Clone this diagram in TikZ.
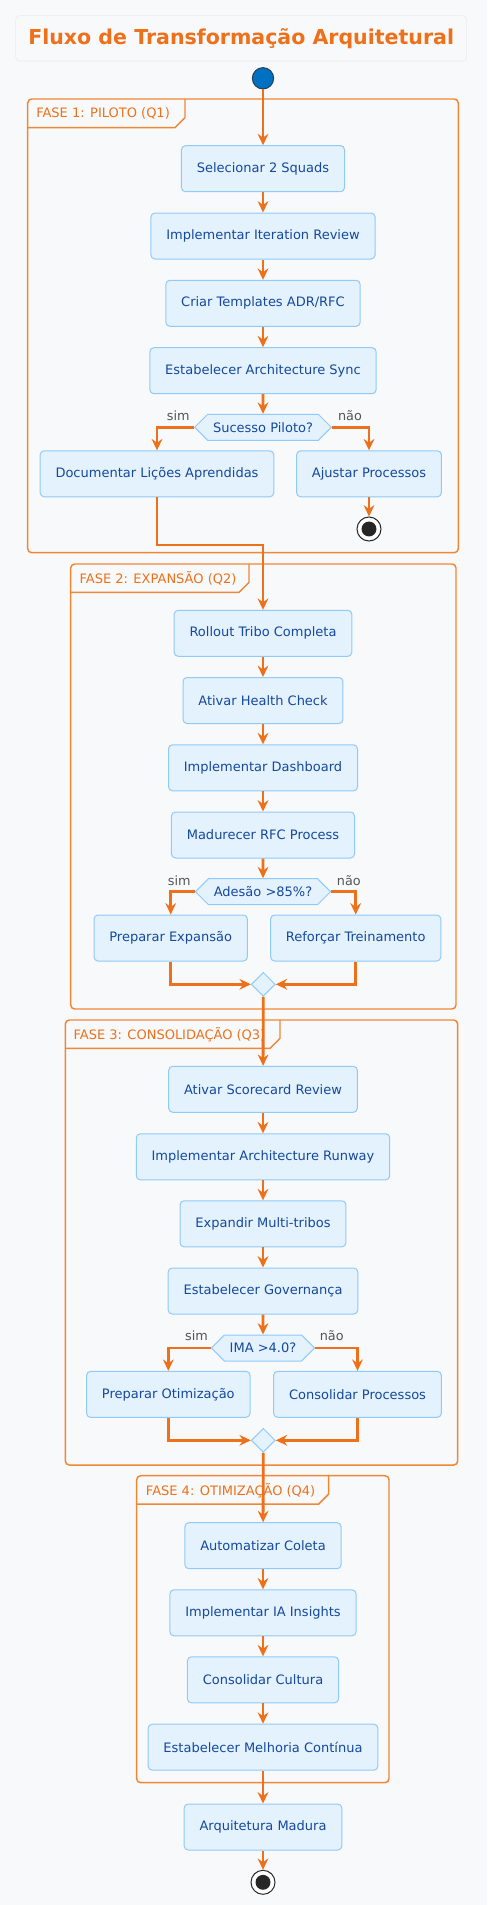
\documentclass[tikz,border=0pt]{standalone}
\usepackage{fontspec}
\setmainfont{DejaVu Sans}
\usetikzlibrary{arrows.meta,shapes.geometric,shapes.symbols,positioning}
\definecolor{fundo}{RGB}{248,249,250}
\definecolor{laranja}{RGB}{238,112,26}
\definecolor{moldura}{RGB}{240,135,55}
\definecolor{caixafundo}{RGB}{227,242,253}
\definecolor{caixaborda}{RGB}{144,202,249}
\definecolor{caixatexto}{RGB}{21,72,158}
\definecolor{azulini}{RGB}{0,112,192}
\definecolor{cinza}{RGB}{85,85,85}
\definecolor{titborda}{RGB}{232,234,237}
\tikzset{
  titulo/.style={rectangle, draw=titborda, fill=fundo, text=laranja, rounded corners=3pt, minimum width=338.25pt, minimum height=34pt, font=\bfseries\fontsize{15.4}{18}\selectfont},
  acao/.style={rectangle, draw=caixaborda, fill=caixafundo, text=caixatexto, line width=0.75pt, rounded corners=3pt, minimum height=34.5pt, inner xsep=11.5pt, font=\fontsize{9.75}{12}\selectfont},
  decisao/.style={signal, signal to=west and east, draw=caixaborda, fill=caixafundo, text=caixatexto, line width=0.75pt, minimum height=19.5pt, inner xsep=4pt, inner ysep=0pt, font=\fontsize{9.75}{12}\selectfont},
  juncao/.style={diamond, draw=caixaborda, fill=caixafundo, line width=0.75pt, minimum size=18pt, inner sep=0pt},
  inicio/.style={circle, draw={rgb,255:red,44;green,62;blue,80}, fill=azulini, line width=0.75pt, minimum size=16pt, inner sep=0pt},
  fim/.style={circle, draw=black!85, fill=white, line width=0.75pt, minimum size=18pt, inner sep=0pt, path picture={\fill[black!85] (path picture bounding box.center) circle (5.6pt);}},
  rotulo/.style={text=cinza, inner sep=0pt, font=\fontsize{9.6}{11}\selectfont},
  fasetit/.style={text=laranja, inner sep=0pt, anchor=west, font=\fontsize{9.75}{12}\selectfont},
  fase/.style={draw=moldura, line width=1.1pt},
  seta/.style={color=laranja, line width=2.1pt, -{Stealth[length=8.5pt,width=8pt,inset=2.8pt]}},
}
\begin{document}
\begin{tikzpicture}[x=0.75pt, y=-0.75pt]
  \fill[fundo] (0,0) rectangle (487,1905);
  \useasboundingbox (0,0) rectangle (487,1905);

  \node[titulo] (tit) at (241.2,38.35) {Fluxo de Transformação Arquitetural};

  %molduras das fases
  \draw[fase, rounded corners=3pt] (27.7,99) rectangle (458.3,552.7);
  \draw[fase] (27.7,127.7) -- (175,127.7) -- (185,117.7) -- (185,99);
  \node[fasetit] (f1) at (36,113.3) {FASE 1: PILOTO (Q1)};

  \draw[fase, rounded corners=3pt] (70.7,564) rectangle (456,1009);
  \draw[fase] (70.7,592.3) -- (239,592.3) -- (249,582.3) -- (249,564);
  \node[fasetit] (f2) at (79.3,578.3) {FASE 2: EXPANSÃO (Q2)};

  \draw[fase, rounded corners=3pt] (65.3,1020) rectangle (457.7,1465);
  \draw[fase] (65.3,1048.3) -- (270,1048.3) -- (280,1038.3) -- (280,1020);
  \node[fasetit] (f3) at (73.3,1034.3) {FASE 3: CONSOLIDAÇÃO (Q3)};

  \draw[fase, rounded corners=3pt] (136.7,1475.7) rectangle (389,1782.7);
  \draw[fase] (136.7,1504) -- (318.7,1504) -- (328.7,1494) -- (328.7,1475.7);
  \node[fasetit] (f4) at (145.7,1490.7) {FASE 4: OTIMIZAÇÃO (Q4)};

  \node[inicio] (ini) at (263,78.3) {};

  %fase 1
  \node[acao] (sel) at (263,168.7) {Selecionar 2 Squads};
  \node[acao] (iter) at (263,236) {Implementar Iteration Review};
  \node[acao] (tmpl) at (263,303.3) {Criar Templates ADR/RFC};
  \node[acao] (sync) at (263,370.7) {Estabelecer Architecture Sync};
  \node[decisao] (dec1) at (263,427.3) {Sucesso Piloto?};
  \node[rotulo] (sim1) at (178.3,416) {sim};
  \node[rotulo] (nao1) at (350,416) {não};
  \node[acao] (doc) at (157,473.8) {Documentar Lições Aprendidas};
  \node[acao] (ajus) at (369,473.8) {Ajustar Processos};
  \node[fim] (fim1) at (369,529) {};
  \coordinate (j1) at (263,545);

  %fase 2
  \node[acao] (roll) at (263,633.3) {Rollout Tribo Completa};
  \node[acao] (health) at (263,700.5) {Ativar Health Check};
  \node[acao] (dash) at (263,767.8) {Implementar Dashboard};
  \node[acao] (rfc) at (263,835) {Madurecer RFC Process};
  \node[decisao] (dec2) at (263,891.7) {Adesão >85\%?};
  \node[rotulo] (sim2) at (179.2,880.3) {sim};
  \node[rotulo] (nao2) at (348.8,880.3) {não};
  \node[acao] (prepexp) at (170.7,938) {Preparar Expansão};
  \node[acao] (refor) at (355.7,938) {Reforçar Treinamento};
  \node[juncao] (jun2) at (263.3,984.3) {};

  %fase 3
  \node[acao] (score) at (263,1089.3) {Ativar Scorecard Review};
  \node[acao] (runway) at (263,1156.8) {Implementar Architecture Runway};
  \node[acao] (multi) at (263,1223.8) {Expandir Multi-tribos};
  \node[acao] (gov) at (263,1291) {Estabelecer Governança};
  \node[decisao] (dec3) at (263,1348) {IMA >4.0?};
  \node[rotulo] (sim3) at (196.5,1336) {sim};
  \node[rotulo] (nao3) at (331.7,1336) {não};
  \node[acao] (prepot) at (168.3,1394.3) {Preparar Otimização};
  \node[acao] (consproc) at (357.5,1394.3) {Consolidar Processos};
  \node[juncao] (jun3) at (263.3,1440.3) {};

  %fase 4
  \node[acao] (autom) at (263,1545.7) {Automatizar Coleta};
  \node[acao] (ia) at (263,1612.8) {Implementar IA Insights};
  \node[acao] (cult) at (263,1679.8) {Consolidar Cultura};
  \node[acao] (melh) at (263,1747.2) {Estabelecer Melhoria Contínua};
  \node[acao] (madura) at (263,1827) {Arquitetura Madura};
  \node[fim] (fim2) at (263,1882.3) {};

  \path[seta]
    (ini) edge (sel)
    (sel) edge (iter)
    (iter) edge (tmpl)
    (tmpl) edge (sync)
    (sync) edge (dec1)
    (ajus) edge (fim1)
    %fase 2
    (roll) edge (health)
    (health) edge (dash)
    (dash) edge (rfc)
    (rfc) edge (dec2)
    (jun2) edge (score)
    %fase 3
    (score) edge (runway)
    (runway) edge (multi)
    (multi) edge (gov)
    (gov) edge (dec3)
    (jun3) edge (autom)
    %fase 4
    (autom) edge (ia)
    (ia) edge (cult)
    (cult) edge (melh)
    (melh) edge (madura)
    (madura) edge (fim2);

  \draw[seta] (dec1.west) -| (doc.north);
  \draw[seta] (dec1.east) -| (ajus.north);
  \draw[seta] (doc.south) |- (j1) -- (roll.north);
  \draw[seta] (dec2.west) -| (prepexp.north);
  \draw[seta] (dec2.east) -| (refor.north);
  \draw[seta] (prepexp.south) |- (jun2.west);
  \draw[seta] (refor.south) |- (jun2.east);
  \draw[seta] (dec3.west) -| (prepot.north);
  \draw[seta] (dec3.east) -| (consproc.north);
  \draw[seta] (prepot.south) |- (jun3.west);
  \draw[seta] (consproc.south) |- (jun3.east);
\end{tikzpicture}
\end{document}
